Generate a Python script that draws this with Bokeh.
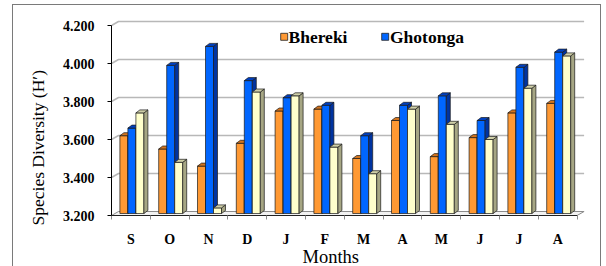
import numpy as np
from bokeh.plotting import figure
from bokeh.models import FixedTicker, LinearAxis, Range1d, Title
from bokeh.embed import file_html
from bokeh.resources import INLINE
from bokeh.core.properties import value

# ---------------- data ----------------
months = ["S", "O", "N", "D", "J", "F", "M", "A", "M", "J", "J", "A"]
bhereki = [3.62, 3.55, 3.46, 3.58, 3.75, 3.76, 3.50, 3.70, 3.51, 3.61, 3.74, 3.79]
ghotonga = [3.66, 3.99, 4.09, 3.91, 3.82, 3.78, 3.62, 3.78, 3.83, 3.70, 3.98, 4.06]
series3 = [3.74, 3.48, 3.24, 3.85, 3.83, 3.56, 3.42, 3.76, 3.68, 3.60, 3.87, 4.04]
series_names = ["Bhereki", "Ghotonga"]
y_ticks = [3.2, 3.4, 3.6, 3.8, 4.0, 4.2]
y_tick_labels = ["3.200", "3.400", "3.600", "3.800", "4.000", "4.200"]

# ---------------- layout ----------------
PX_X = 38.8          # pixels per category
PX_Y = 190.0         # pixels per 1.0 unit
FW, FH = 481, 200
FL, FR, FT, FB = 98, 8, 10, 51
y0 = y_ticks[0]
n = len(months)

p = figure(frame_width=FW, frame_height=FH, output_backend="svg", toolbar_location=None,
           x_range=Range1d(0, FW / PX_X), y_range=Range1d(y0, y0 + FH / PX_Y),
           min_border_left=FL, min_border_right=FR, min_border_top=FT, min_border_bottom=FB,
           x_axis_type=None, y_axis_type=None)
p.outline_line_color = None
p.background_fill_color = "white"
p.border_fill_color = "white"
p.styles = {"margin-left": "12px", "margin-top": "4px",
            "border-left": "1px solid #7a7a7a", "border-top": "1px solid #7a7a7a",
            "border-right": "1px solid #7a7a7a"}

BOLD_FONT = "serif"
PLAIN_FONT = "Liberation Serif"

# 3D walls
gdx, gdy = 7 / PX_X, 4 / PX_Y
p.patch([0, n, n + gdx, gdx], [y0, y0, y0 + gdy, y0 + gdy],
        fill_color="#f2f2f2", line_color="#8c8c8c", line_width=1)
gx = [[0, gdx, n + gdx] for v in y_ticks[1:]]
gy = [[v, v + gdy, v + gdy] for v in y_ticks[1:]]
p.multi_line(gx, gy, line_color="#b8b8b8", line_width=1.6)

# 3D bars
series = [bhereki, ghotonga, series3]
fronts = ["#FF9933", "#0066FF", "#FFFFCC"]
sides = ["#B8621A", "#0033A0", "#A6A684"]
tops = ["#D2741F", "#0040C0", "#CFCFA8"]
bw = 8 / PX_X
bdx, bdy = 4 / PX_X, 3 / PX_Y
shift = 1 / PX_X
base = y0 + 2 / PX_Y
xs, ys, fills = [], [], []
for i in range(n):
    cx = i + 0.5 + shift
    for k, s in enumerate(series):
        x0 = cx - 1.5 * bw + k * bw
        x1 = x0 + bw
        v = s[i]
        xs.append([x0, x1, x1, x0]); ys.append([base, base, v, v]); fills.append(fronts[k])
        xs.append([x1, x1 + bdx, x1 + bdx, x1]); ys.append([base, base + bdy, v + bdy, v]); fills.append(sides[k])
        xs.append([x0, x1, x1 + bdx, x0 + bdx]); ys.append([v, v, v + bdy, v + bdy]); fills.append(tops[k])
p.patches(xs, ys, fill_color=fills, line_color="#1a1a1a", line_width=0.7)

# axes
yaxis = LinearAxis(ticker=FixedTicker(ticks=y_ticks, minor_ticks=[]),
                   major_label_overrides=dict(zip(y_ticks, y_tick_labels)))
yaxis.bounds = (y_ticks[0], y_ticks[-1])
yaxis.axis_line_color = "black"
yaxis.major_tick_in = 0
yaxis.major_tick_out = 4
yaxis.major_label_standoff = 13
yaxis.major_label_text_font = BOLD_FONT
yaxis.major_label_text_font_style = "bold"
yaxis.major_label_text_font_size = "14px"
yaxis.major_label_text_color = "black"
p.add_layout(yaxis, "left")

centers = [i + 0.5 for i in range(n)]
bounds_t = [float(i) for i in range(n + 1)]
xaxis = LinearAxis(ticker=FixedTicker(ticks=centers, minor_ticks=bounds_t),
                   major_label_overrides=dict(zip(centers, months)))
xaxis.bounds = (0, n)
xaxis.axis_line_color = "#222222"
xaxis.major_tick_line_color = None
xaxis.major_tick_in = 0
xaxis.major_tick_out = 0
xaxis.minor_tick_in = 0
xaxis.minor_tick_out = 4
xaxis.minor_tick_line_color = "#8c8c8c"
xaxis.major_label_standoff = 12
xaxis.major_label_text_font = BOLD_FONT
xaxis.major_label_text_font_style = "bold"
xaxis.major_label_text_font_size = "14px"
xaxis.major_label_text_color = "black"
p.add_layout(xaxis, "below")

# legend (drawn)
leg_y = y0 + (215 - 36.3) / PX_Y
leg_sq_x = [(283.7 - 111) / PX_X, (384.7 - 111) / PX_X]
leg_tx_x = [(288 - 111) / PX_X, (389.5 - 111) / PX_X]
p.scatter(leg_sq_x, [leg_y, leg_y], marker="square", size=7,
          fill_color=fronts[:2], line_color="#222222", line_width=0.8)
p.text(leg_tx_x, [leg_y, leg_y], text=series_names, text_font=value(BOLD_FONT),
       text_font_style="bold", text_font_size="17.5px", text_baseline="middle",
       text_align="left", text_color="black")

# axis titles
p.add_layout(Title(text="Species Diversity (H\u2032)", align="left", offset=-10, standoff=24,
                   text_font=PLAIN_FONT, text_font_style="normal", text_font_size="17.5px",
                   text_color="black"), "left")
p.add_layout(Title(text="Months", align="left", offset=191, standoff=-10,
                   text_font=PLAIN_FONT, text_font_style="normal", text_font_size="18.5px",
                   text_color="black"), "below")

open("out.html", "w").write(file_html(p, INLINE))
